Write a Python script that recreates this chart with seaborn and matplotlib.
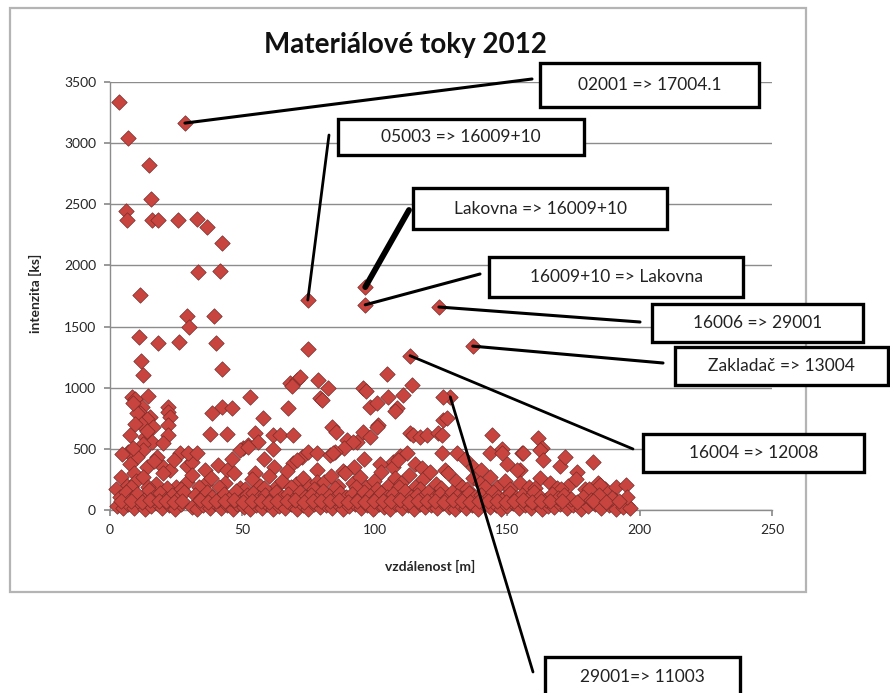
import matplotlib
matplotlib.use("Agg")
import matplotlib.pyplot as plt
from matplotlib.patches import Rectangle, ConnectionPatch
import pandas as pd
import seaborn as sns

# ---- labelled flows (name, distance [m], intensity [ks]) ----
flow_names = ["02001 => 17004.1", "05003 => 16009+10", "Lakovna => 16009+10",
              "16009+10 => Lakovna", "16006 => 29001", "Zakladač => 13004",
              "16004 => 12008", "29001=> 11003"]
flow_dist = [28.3, 74.7, 96.4, 96.4, 124.2, 137.0, 113.3, 128.5]
flow_int = [3164, 1717, 1823, 1678, 1660, 1340, 1262, 925]

# ---- other flows with high intensity ----
top_dist = [3.4, 6.9, 14.8, 15.5, 6.0, 6.3, 15.8, 18.2, 25.6, 32.8,
            36.5, 42.3, 33.2, 41.5, 11.5, 28.9, 29.7, 39.1, 10.8, 18.3,
            26.1, 40.2, 74.8, 11.7, 12.5, 42.3, 68.0, 70.6, 71.8, 78.5,
            104.6, 114.0, 82.3]
top_int = [3336, 3042, 2821, 2543, 2445, 2371, 2371, 2371, 2371, 2379,
           2314, 2183, 1946, 1954, 1755, 1590, 1500, 1586, 1415, 1362,
           1374, 1362, 1316, 1218, 1104, 1153, 1038, 1063, 1087, 1063,
           1112, 1022, 998]

# ---- flows 500-1000 ks ----
mid_dist = [8.2, 9.4, 14.4, 12.0, 11.3, 15.1, 14.0, 16.4, 13.2, 11.3,
            10.1, 8.8, 9.5, 13.8, 16.0, 12.5, 7.5, 22.0, 21.9, 22.7,
            22.0, 22.0, 20.0, 38.5, 42.3, 46.1, 37.8, 44.2, 52.9, 57.8,
            54.6, 61.6, 64.2, 69.1, 67.2, 79.3, 80.1, 68.8, 95.5, 96.5,
            105.0, 110.6, 108.4, 107.5, 98.2, 100.8, 101.2, 100.8, 125.8, 125.8,
            127.3, 83.8, 85.3, 89.5, 93.3, 95.5, 98.2, 91.8, 113.3, 114.5,
            117.1, 119.7, 123.9, 125.4, 144.3, 161.6, 163.1, 50.2, 52.1, 55.9,
            61.5, 88.5, 148.0, 155.6]
mid_int = [927, 905, 932, 842, 790, 760, 745, 679, 597, 711,
           793, 875, 700, 650, 560, 540, 610, 842, 801, 760,
           695, 613, 548, 793, 842, 834, 620, 620, 924, 752,
           630, 613, 613, 613, 834, 916, 899, 1010, 998, 975,
           924, 940, 834, 810, 842, 875, 695, 679, 924, 736,
           752, 679, 635, 572, 556, 640, 597, 556, 630, 613,
           597, 613, 630, 613, 613, 589, 507, 510, 531, 556,
           500, 505, 500, 470]

# ---- flows 300-500 ks ----
low_dist = [40.8, 44.2, 54.8, 29.0, 31.0, 20.0, 22.7, 26.4, 29.5, 32.9,
            12.5, 10.2, 6.8, 8.7, 17.7, 4.5, 7.6, 14.0, 69.1, 72.5,
            74.8, 78.2, 83.1, 85.0, 106.9, 109.5, 106.9, 108.8, 125.4, 126.5,
            131.0, 143.5, 148.0, 156.0, 162.4, 163.5, 182.4, 176.4, 137.1, 78.2,
            70.6, 84.2, 49.1, 52.1, 58.0, 62.0, 92.0, 96.0, 115.0, 118.0,
            134.0, 150.0, 170.0, 172.0, 112.0, 140.0, 154.8, 102.0, 88.0, 46.0,
            36.0, 9.0, 16.5, 24.0]
low_int = [368, 327, 302, 360, 392, 352, 327, 466, 466, 466,
           491, 433, 474, 507, 433, 460, 380, 350, 384, 433,
           474, 466, 450, 474, 392, 441, 352, 409, 466, 327,
           466, 466, 466, 466, 491, 409, 392, 311, 352, 327,
           409, 466, 491, 515, 420, 350, 350, 420, 380, 340,
           420, 380, 360, 430, 470, 330, 327, 380, 320, 420,
           330, 300, 400, 410]

# ---- flows 170-330 ks ----
upper_dist = [4.0, 6.5, 9.8, 12.5, 17.2, 20.0, 24.8, 29.0, 31.0, 35.8,
              38.0, 43.5, 46.8, 49.2, 53.5, 56.8, 59.9, 62.5, 64.8, 66.9,
              70.2, 72.9, 75.5, 78.2, 80.9, 83.5, 86.2, 88.9, 91.7, 94.3,
              96.8, 99.6, 102.2, 104.9, 107.5, 110.0, 112.8, 115.3, 118.1, 120.7,
              123.2, 127.6, 130.5, 133.0, 137.1, 139.7, 143.5, 146.0, 149.3, 153.7,
              154.8, 158.2, 162.4, 166.2, 168.9, 173.0, 176.0, 179.5, 184.3, 187.0,
              191.0, 194.9, 185.0, 190.7, 195.2,
              2.2, 8.0, 14.5, 21.5, 27.0, 33.5, 41.0, 51.0, 58.2, 68.5,
              77.0, 85.0, 93.0, 101.0, 109.0, 117.0, 125.0, 135.0, 141.5, 151.0,
              160.5, 170.5, 181.0]
upper_int = [270, 200, 240, 270, 210, 300, 190, 230, 290, 210,
             260, 220, 300, 180, 250, 200, 280, 190, 240, 320,
             210, 260, 195, 230, 230, 280, 200, 300, 220, 270,
             185, 240, 310, 200, 260, 220, 290, 190, 250, 310,
             210, 303, 240, 190, 260, 220, 270, 190, 240, 327,
             221, 190, 262, 221, 180, 200, 250, 175, 221, 170,
             190, 204, 204, 82, 41,
             175, 185, 190, 180, 170, 185, 190, 175, 180, 185,
             170, 180, 190, 175, 185, 170, 180, 175, 185, 170,
             180, 175, 170]

# ---- dense band of small flows, 0-160 ks ----
band_dist = [2.5, 4.8, 6.9, 9.1, 11.4, 13.2, 15.6, 17.9, 19.8, 22.1,
             24.5, 26.7, 30.8, 33.0, 35.2, 37.6, 39.5, 41.8, 44.0, 46.3,
             48.1, 50.6, 52.8, 55.0, 57.3, 59.4, 61.7, 63.9, 66.0, 68.4,
             70.5, 72.8, 74.9, 77.2, 79.3, 81.6, 83.8, 85.9, 88.1, 90.4,
             92.6, 94.7, 97.0, 99.2, 101.5, 103.6, 105.8, 108.1, 110.3, 112.4,
             114.7, 116.9, 119.0, 121.3, 123.5, 125.6, 127.9, 130.1, 132.3, 134.5,
             136.8, 139.0, 141.2, 143.4, 145.7, 147.8, 150.0, 152.3, 154.5, 156.6,
             158.9, 161.1, 163.2, 165.5, 167.7, 169.9, 172.5, 175.0, 177.8, 180.4,
             183.0, 185.6, 188.3, 191.0, 193.7, 196.5,
             3.6, 5.9, 8.2, 10.3, 12.7, 14.9, 16.8, 19.0, 21.3, 23.4,
             25.8, 27.9, 32.1, 34.3, 36.5, 38.7, 40.9, 43.1, 45.2, 47.5,
             49.7, 51.9, 54.1, 56.2, 58.5, 60.6, 62.8, 65.1, 67.3, 69.4,
             71.6, 73.8, 76.0, 78.3, 80.4, 82.6, 84.8, 87.0, 89.2, 91.4,
             93.6, 95.8, 98.1, 100.3, 102.5, 104.7, 107.0, 109.1, 111.3, 113.6,
             115.8, 117.9, 120.2, 122.4, 124.6, 126.8, 129.0, 131.2, 133.4, 135.6,
             137.9, 140.1, 142.3, 144.5, 146.7, 148.9, 151.2, 153.4, 155.6, 157.8,
             160.0, 162.3, 164.5, 166.8, 169.0, 171.6, 174.2, 178.5, 181.8, 184.5,
             189.5, 195.2,
             4.2, 7.8, 11.9, 15.0, 18.6, 21.0, 24.0, 27.2, 33.8, 36.9,
             40.2, 43.6, 47.0, 50.1, 53.6, 56.9, 60.1, 63.2, 66.7, 69.9,
             73.3, 76.6, 79.8, 83.1, 86.5, 89.8, 93.1, 96.4, 99.7, 103.0,
             106.3, 109.6, 113.0, 116.2, 119.6, 122.9, 126.2, 129.5, 132.8, 136.1,
             139.5, 142.8, 146.1, 149.4, 152.7, 156.0, 159.4, 162.7, 166.0, 170.7,
             176.4, 182.3, 187.2, 192.4]
band_int = [30, 15, 45, 20, 55, 10, 35, 60, 18, 40,
            12, 50, 25, 8, 42, 20, 55, 15, 38, 12,
            48, 22, 5, 40, 18, 52, 10, 35, 20, 45,
            12, 38, 8, 50, 22, 42, 15, 55, 10, 30,
            48, 18, 40, 12, 52, 25, 8, 45, 20, 38,
            10, 50, 22, 40, 15, 55, 28, 8, 45, 18,
            38, 12, 50, 25, 40, 10, 32, 55, 15, 42,
            20, 48, 10, 35, 22, 50, 15, 40, 12, 30,
            45, 18, 38, 10, 25, 15,
            110, 150, 95, 130, 85, 160, 105, 140, 90, 125,
            100, 150, 120, 95, 145, 110, 85, 130, 100, 155,
            90, 120, 140, 95, 125, 85, 150, 110, 130, 90,
            145, 105, 125, 90, 155, 115, 95, 140, 105, 130,
            90, 150, 115, 95, 140, 105, 130, 90, 155, 110,
            125, 95, 145, 100, 130, 90, 150, 115, 95, 140,
            105, 125, 90, 150, 110, 95, 135, 100, 120, 90,
            145, 105, 85, 130, 95, 120, 90, 110, 85, 120,
            95, 105,
            70, 75, 65, 80, 70, 75, 68, 72, 78, 66,
            74, 70, 80, 65, 72, 76, 68, 74, 70, 78,
            66, 72, 75, 70, 80, 68, 74, 65, 76, 70,
            72, 78, 66, 74, 70, 75, 68, 80, 72, 66,
            74, 70, 76, 68, 72, 78, 65, 74, 70, 72,
            68, 75, 66, 70]

frames = []
for d, v in [(flow_dist, flow_int), (top_dist, top_int), (mid_dist, mid_int),
             (low_dist, low_int), (upper_dist, upper_int), (band_dist, band_int)]:
    frames.append(pd.DataFrame({"vzdalenost": d, "intenzita": v}))
flows = pd.concat(frames, ignore_index=True)

# ---- figure ----
W, H = 890, 693
sns.set_theme(style="white")
plt.rcParams["font.family"] = ["Lato", "DejaVu Sans"]

fig = plt.figure(figsize=(W / 100, H / 100), dpi=100)
fig.patch.set_facecolor("white")


def fx(px):
    return px / W


def fy(py):
    return 1 - py / H


# outer chart frame
fig.patches.append(Rectangle((fx(10), fy(592)), fx(806) - fx(10), fy(8) - fy(592),
                             transform=fig.transFigure, fill=False,
                             edgecolor="#b4b4b4", linewidth=1.6, zorder=0))

ax = fig.add_axes([fx(110), fy(510), fx(772) - fx(110), fy(82) - fy(510)])
ax.set_facecolor("white")

sns.scatterplot(data=flows, x="vzdalenost", y="intenzita", ax=ax,
                marker="D", s=62, color="#c8453f", edgecolor="#7a2a27",
                linewidth=0.5, clip_on=False, zorder=3, legend=False)

ax.set_xlim(0, 250)
ax.set_ylim(0, 3500)
ax.set_xticks([0, 50, 100, 150, 200, 250])
ax.set_yticks([0, 500, 1000, 1500, 2000, 2500, 3000, 3500])
ax.yaxis.grid(True, color="#8c8c8c", linewidth=1.0)
ax.xaxis.grid(False)
ax.set_axisbelow(True)
for side in ["top", "right"]:
    ax.spines[side].set_visible(False)
for side in ["left", "bottom"]:
    ax.spines[side].set_color("#8c8c8c")
    ax.spines[side].set_linewidth(1.0)
ax.tick_params(axis="both", which="major", direction="out", length=4,
               color="#8c8c8c", labelsize=10, labelcolor="#262626", pad=6,
               left=True, bottom=True)

ax.set_xlabel("vzdálenost [m]", fontsize=10, fontweight="bold", color="#262626")
ax.set_ylabel("intenzita [ks]", fontsize=10, fontweight="bold", color="#262626")
ax.xaxis.set_label_coords((430 - 110) / (772 - 110), -(560 - 510) / (510 - 82))
ax.yaxis.set_label_coords(-(110 - 42) / (772 - 110), (510 - 293) / (510 - 82))

fig.text(fx(405), fy(45), "Materiálové toky 2012", ha="center", va="center",
         fontsize=20, fontweight="bold", color="#111111")

# callout boxes (left, top, right, bottom in pixels) and where their leader ends
boxes = [(540, 63, 759, 107), (338, 119, 584, 155), (413, 188, 667, 229),
         (489, 257, 743, 297), (652, 304, 863, 342), (675, 347, 888, 385),
         (643, 434, 864, 472), (545, 657, 740, 702)]
leader_ends = [(532, 79), (329, 135), (409, 210), (480, 274),
               (640, 322), (663, 363), (633, 449), (533, 672)]
leader_widths = [2.2, 2.0, 4.2, 2.2, 2.2, 2.2, 2.0, 2.0]

for name, d, v, (l, t, r, b), (ex, ey), lw in zip(flow_names, flow_dist, flow_int,
                                                   boxes, leader_ends, leader_widths):
    con = ConnectionPatch(xyA=(d, v), coordsA=ax.transData,
                          xyB=(fx(ex), fy(ey)), coordsB=fig.transFigure,
                          color="black", linewidth=lw, zorder=5)
    fig.add_artist(con)
    fig.patches.append(Rectangle((fx(l), fy(b)), fx(r) - fx(l), fy(t) - fy(b),
                                 transform=fig.transFigure, facecolor="white",
                                 edgecolor="black", linewidth=2.4, zorder=6))
    cy = (t + min(b, 697)) / 2
    fig.text(fx((l + r) / 2), fy(cy), name, ha="center", va="center",
             fontsize=12.5, color="#222222", zorder=7)

fig.savefig("out.png", dpi=100)
